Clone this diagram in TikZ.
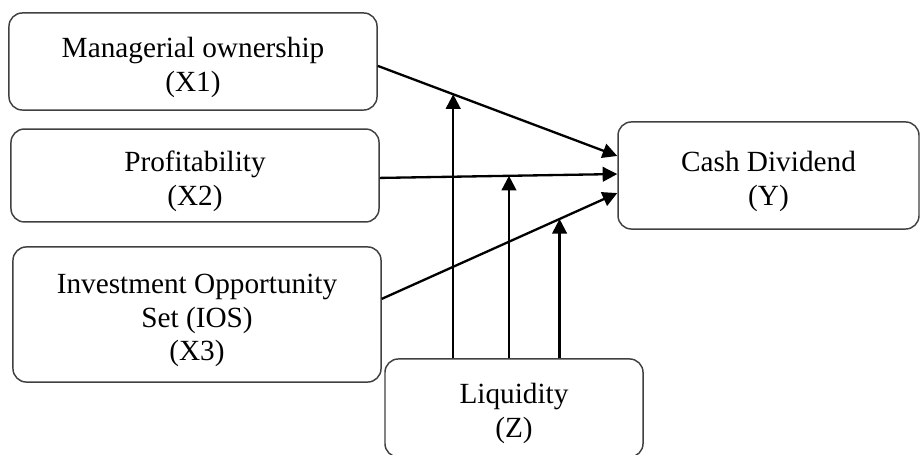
\documentclass[tikz,border=0pt]{standalone}
\usepackage{fontspec}
\setmainfont{Liberation Serif}
\usetikzlibrary{arrows.meta}

% text of a box, set a little below its middle
\newcommand{\vartext}[1]{\raisebox{-5.5pt}[0pt][0pt]{\begin{tabular}{@{}c@{}}#1\end{tabular}}}

\tikzset{
  varbox/.style={draw=black!75, line width=0.6pt, rounded corners=5.5pt,
    inner sep=0pt, font=\fontsize{12}{13.8}\selectfont},
  link/.style={line width=0.95pt, -{Triangle[length=6pt,width=6pt]}}
}

\begin{document}
\begin{tikzpicture}[x=0.41pt,y=-0.41pt]
    % Fix the frame of the picture
    \useasboundingbox (0,0) rectangle (921,455);

    % Define the variable boxes
    \node [varbox, minimum width=150.9pt, minimum height=39.8pt] (x1) at (193,61.5)
        {\vartext{Managerial ownership\\(X1)}};
    \node [varbox, minimum width=150.9pt, minimum height=38.1pt] (x2) at (195,175.5)
        {\vartext{Profitability\\(X2)}};
    \node [varbox, minimum width=150.9pt, minimum height=55.4pt] (x3) at (197,314.5)
        {\vartext{Investment Opportunity\\Set (IOS)\\(X3)}};
    \node [varbox, minimum width=123.4pt, minimum height=43.9pt] (y) at (768.5,175.5)
        {\vartext{Cash Dividend\\(Y)}};
    \node [varbox, minimum width=105.8pt, minimum height=40.2pt] (z) at (514,408)
        {\vartext{Liquidity\\(Z)}};

    % Draw the direct effects on Y
    \draw [link] ([yshift=-1.8pt]x1.east) -- coordinate[pos=0.315] (m1) ([yshift=8pt]y.west);
    \draw [link] ([yshift=-1pt]x2.east) -- coordinate[pos=0.544] (m2) ([yshift=0.6pt]y.west);
    \draw [link] ([yshift=6.4pt]x3.east) -- coordinate[pos=0.755] (m3) ([yshift=-7.2pt]y.west);

    % Draw the moderating arrows from Z
    \draw [link] (z.north -| m1) -- (m1);
    \draw [link] (z.north -| m2) -- (m2);
    \draw [link] (z.north -| m3) -- (m3);

\end{tikzpicture}
\end{document}
